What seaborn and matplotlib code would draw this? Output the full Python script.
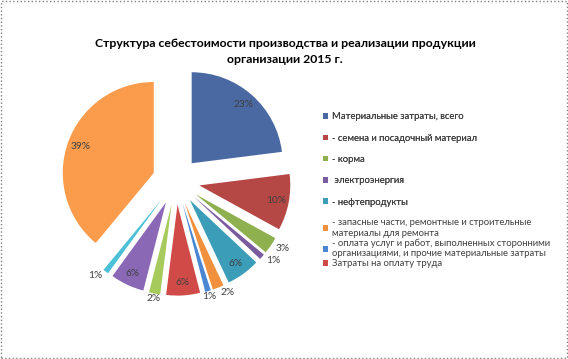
import numpy as np
import seaborn as sns
import matplotlib.pyplot as plt
from matplotlib.patches import Rectangle

title = "Структура себестоимости производства и реализации продукции\nорганизации 2015 г."

categories = [
    "Материальные затраты, всего",
    "- семена и посадочный материал",
    "- корма",
    " электроэнергия",
    "- нефтепродукты",
    "- запасные части, ремонтные и строительные\nматериалы для ремонта",
    "- оплата услуг и работ, выполненных сторонними\nорганизациями, и прочие материальные затраты",
    "Затраты на оплату труда",
    "Отчисления на социальные нужды",
    "Содержание основных средств",
    "Прочие затраты",
    "Прочее",
]
shares = [23, 10, 3, 1, 6, 2, 1, 6, 2, 6, 1, 39]
colors = ["#4A69A3", "#B54745", "#8FB04E", "#7A5C9E", "#3C9DB8", "#F1913E",
          "#4B86D2", "#D04B48", "#A6CB5C", "#8A68B6", "#4CC0D6", "#FA9C4C"]

sns.set_theme(style="white")
plt.rcParams["font.family"] = ["Lato", "DejaVu Sans"]

fig = plt.figure(figsize=(5.68, 3.59), dpi=100)
ax = fig.add_axes([0.0856, 0.141, 0.4486, 0.7097])

wedges, _ = ax.pie(shares, colors=colors, startangle=90, counterclock=False,
                   explode=[0.26] * len(shares), radius=1.0,
                   wedgeprops=dict(linewidth=0))
ax.set_xlim(-1.4, 1.4)
ax.set_ylim(-1.4, 1.4)

# percent labels: inside for large slices, outside for small ones
total = sum(shares)
for w, v in zip(wedges, shares):
    ang = np.deg2rad((w.theta1 + w.theta2) / 2)
    cx, cy = w.center
    c, s = np.cos(ang), np.sin(ang)
    if v >= 5:
        dist, ha = 0.86, "center"
    else:
        dist = 1.06
        ha = "left" if c > 0.3 else ("right" if c < -0.3 else "center")
    ax.text(cx + dist * c, cy + dist * s, f"{round(100 * v / total)}%",
            ha=ha, va="center", fontsize=7.3, color="#404040")

fig.text(0.502, 0.895, title, ha="center", va="top", fontsize=8.8,
         fontweight="bold", color="black", linespacing=1.6)

leg_kw = dict(frameon=False, fontsize=6.8, handlelength=0.55, handleheight=0.55,
              handletextpad=0.4, borderpad=0, labelcolor="#404040")
leg1 = fig.legend(wedges[:5], categories[:5], loc="upper left",
                  bbox_to_anchor=(0.56, 0.70), labelspacing=1.3, **leg_kw)
fig.add_artist(leg1)
fig.legend(wedges[5:8], categories[5:8], loc="upper left",
           bbox_to_anchor=(0.56, 0.405), labelspacing=0.1, **leg_kw)

fig.add_artist(Rectangle((0.001, 0.002), 0.997, 0.995, transform=fig.transFigure,
                         fill=False, edgecolor="#808080", linestyle=":", linewidth=1))

fig.savefig("out.png", dpi=100)
